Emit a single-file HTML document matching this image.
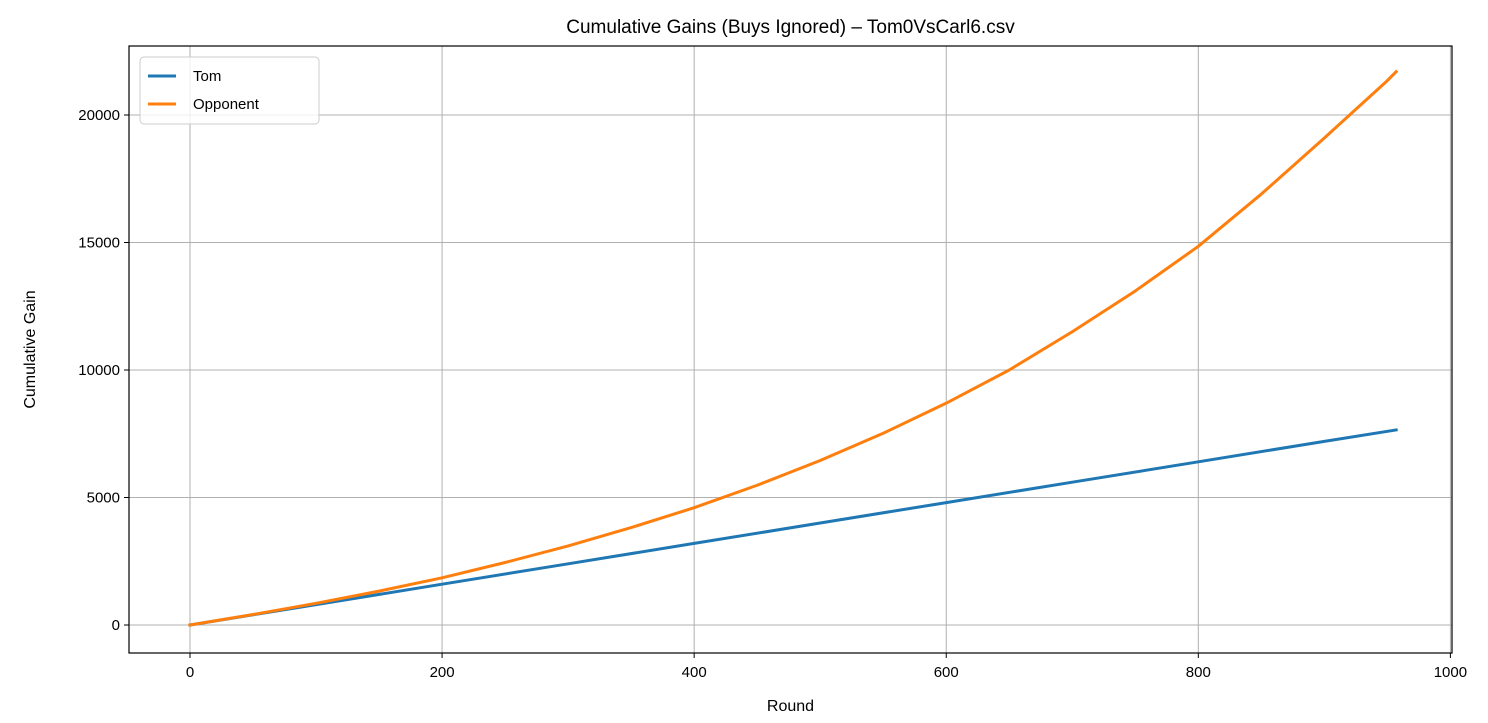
<!DOCTYPE html>
<html><head><meta charset="utf-8">
<style>
html,body{margin:0;padding:0;background:#fff;}
svg{display:block;font-family:"Liberation Sans","DejaVu Sans",sans-serif;}
</style></head>
<body>
<svg id="chart" width="1488" height="723" viewBox="0 0 1488 723"></svg>
<script>
const xTicks = [0, 200, 400, 600, 800, 1000];
const yTicks = [0, 5000, 10000, 15000, 20000];
const tomRounds = [0, 100, 200, 300, 400, 500, 600, 700, 800, 900, 957];
const tomValues = [0, 800, 1600, 2400, 3200, 4000, 4800, 5600, 6400, 7200, 7650];
const oppRounds = [0, 50, 100, 150, 200, 250, 300, 350, 400, 450, 500, 550, 600, 650, 700, 750, 800, 850, 900, 950, 957];
const oppValues = [0, 410, 850, 1330, 1850, 2450, 3100, 3820, 4600, 5480, 6450, 7520, 8700, 10000, 11500, 13100, 14850, 16900, 19100, 21350, 21700];

const NS = "http://www.w3.org/2000/svg";
const svg = document.getElementById("chart");
const L = 129, R = 1452, T = 46, B = 653;
const X0 = 190, XS = 1.2604;
const Y0 = 625, YS = 127.5 / 5000;
const sx = v => X0 + v * XS;
const sy = v => Y0 - v * YS;

function mk(tag, attrs, parent) {
  const e = document.createElementNS(NS, tag);
  for (const k in attrs) e.setAttribute(k, attrs[k]);
  (parent || svg).appendChild(e);
  return e;
}

// grid
const grid = mk("g", {});


xTicks.forEach(t => { const x = sx(t); if (x >= L && x <= R) mk("line", {x1:x, x2:x, y1:T, y2:B, stroke:"#b0b0b0", "stroke-width":1}, grid); });
yTicks.forEach(t => { const y = sy(t); mk("line", {x1:L, x2:R, y1:y, y2:y, stroke:"#b0b0b0", "stroke-width":1}, grid); });

// ticks + labels
const xAxis = mk("g", {});


xTicks.forEach(t => {
  const x = sx(t);
  mk("line", {x1:x, x2:x, y1:B, y2:B+5, stroke:"#000", "stroke-width":1}, xAxis);
  const tx = mk("text", {x:x, y:B+24, "text-anchor":"middle", "font-size":"15", fill:"#000"}, xAxis);
  tx.textContent = t;
});
const yAxis = mk("g", {});


yTicks.forEach(t => {
  const y = sy(t);
  mk("line", {x1:L-5, x2:L, y1:y, y2:y, stroke:"#000", "stroke-width":1}, yAxis);
  const tx = mk("text", {x:L-9, y:y+5, "text-anchor":"end", "font-size":"15", fill:"#000"}, yAxis);
  tx.textContent = t;
});

// series
function series(xs, ys, color, name) {
  const d = xs.map((r, i) => (i ? "L" : "M") + sx(r).toFixed(2) + " " + sy(ys[i]).toFixed(2)).join(" ");
  const p = mk("path", {d:d, fill:"none", stroke:color, "stroke-width":3, "stroke-linejoin":"round", "stroke-linecap":"square"});
  
  
}
series(tomRounds, tomValues, "#1f77b4", "tom-line");
series(oppRounds, oppValues, "#ff7f0e", "opponent-line");

// frame
const frame = mk("rect", {x:L, y:T, width:R-L, height:B-T, fill:"none", stroke:"#000", "stroke-width":1.2});



// titles
const title = mk("text", {x:(L+R)/2, y:33, "text-anchor":"middle", "font-size":"19", fill:"#000"});


title.textContent = "Cumulative Gains (Buys Ignored) – Tom0VsCarl6.csv";
const xt = mk("text", {x:(L+R)/2, y:711, "text-anchor":"middle", "font-size":"16", fill:"#000"});


xt.textContent = "Round";
const yt = mk("text", {x:0, y:0, "text-anchor":"middle", "font-size":"16", fill:"#000", transform:"translate(35 " + ((T+B)/2) + ") rotate(-90)"});


yt.textContent = "Cumulative Gain";

// legend
const lg = mk("g", {});


mk("rect", {x:140, y:57, width:179, height:67, rx:4, fill:"#fff", "fill-opacity":0.8, stroke:"#ccc", "stroke-width":1}, lg);
[["Tom", "#1f77b4", 76], ["Opponent", "#ff7f0e", 104]].forEach(([n, c, y]) => {
  const e = mk("g", {}, lg);
  
  
  mk("line", {x1:148, x2:176, y1:y, y2:y, stroke:c, "stroke-width":3}, e);
  const t = mk("text", {x:193, y:y+5, "font-size":"15", fill:"#000"}, e);
  t.textContent = n;
});
</script>
</body></html>
